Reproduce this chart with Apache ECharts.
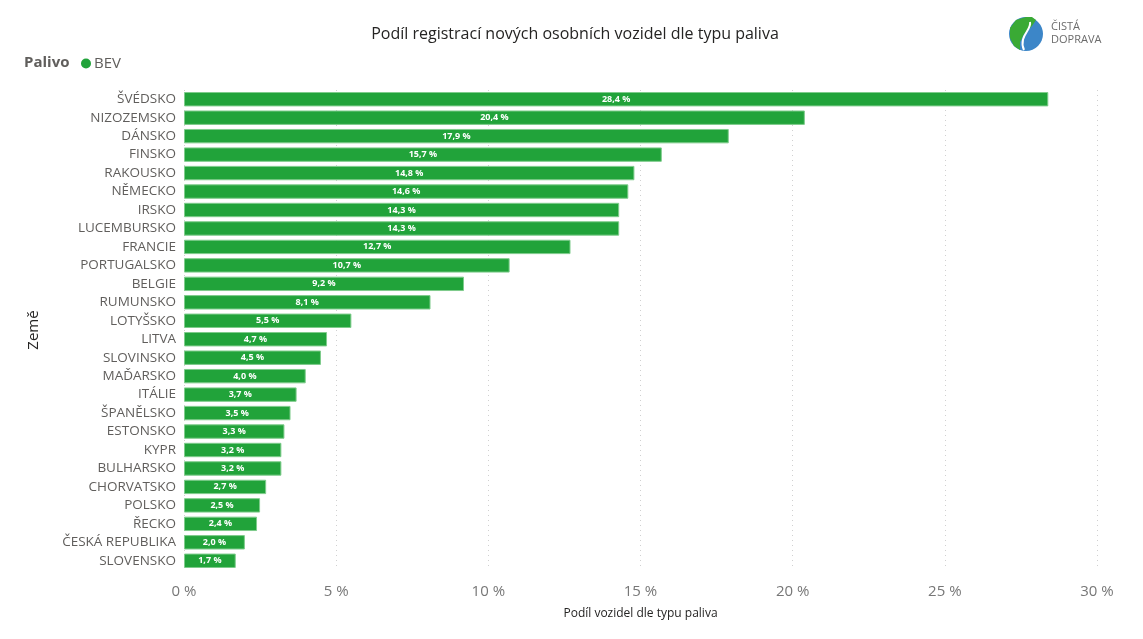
<!DOCTYPE html>
<html><head><meta charset="utf-8">
<script src="https://cdn.jsdelivr.net/npm/echarts@6/dist/echarts.min.js"></script>
<style>html,body{margin:0;padding:0;background:#fff}#c{width:1143px;height:639px}</style>
</head><body><div id="c"></div>
<script>
const categories = ["ŠVÉDSKO","NIZOZEMSKO","DÁNSKO","FINSKO","RAKOUSKO","NĚMECKO","IRSKO","LUCEMBURSKO","FRANCIE","PORTUGALSKO","BELGIE","RUMUNSKO","LOTYŠSKO","LITVA","SLOVINSKO","MAĎARSKO","ITÁLIE","ŠPANĚLSKO","ESTONSKO","KYPR","BULHARSKO","CHORVATSKO","POLSKO","ŘECKO","ČESKÁ REPUBLIKA","SLOVENSKO"];
const bevValues = [28.4,20.4,17.9,15.7,14.8,14.6,14.3,14.3,12.7,10.7,9.2,8.1,5.5,4.7,4.5,4.0,3.7,3.5,3.3,3.2,3.2,2.7,2.5,2.4,2.0,1.7];
const xTicks = [0,5,10,15,20,25,30];

const chart = echarts.init(document.getElementById('c'));
const fmt = v => v.toFixed(1).replace('.', ',') + ' %';
chart.setOption({
  animation:false,
  textStyle:{fontFamily:'"Open Sans", "DejaVu Sans", sans-serif'},
  title:{text:'Podíl registrací nových osobních vozidel dle typu paliva',left:570,top:21,textAlign:'center',
    textStyle:{fontSize:16,fontWeight:'normal',color:'#252423',fontFamily:'"Open Sans", sans-serif'}},
  legend:{left:76,top:51,icon:'circle',itemWidth:10,itemHeight:10,itemGap:4,data:['BEV'],
    itemStyle:{borderWidth:0,color:'#21A33A'},
    textStyle:{fontSize:15,color:'#605E5C',padding:[0,0,0,-2]}},
  graphic:[
    {type:'text',x:24,y:63,style:{text:'Palivo',fontSize:15,fontWeight:'bold',fill:'#605E5C',textVerticalAlign:'middle',fontFamily:'"Open Sans", sans-serif'}},
    {type:'circle',shape:{cx:1026,cy:34,r:17},style:{fill:'#3C86C8'}},
    {type:'polygon',shape:{points:[[1026,17],[1016,20],[1010,28],[1010,38],[1014,46],[1020,50],[1020,42],[1024,34],[1032,26],[1036,20],[1032,17]]},style:{fill:'#3AAA35'}},
    {type:'bezierCurve',shape:{x1:1030,y1:22,cpx1:1032,cpy1:30,cpx2:1018,cpy2:36,x2:1024,y2:50},style:{fill:'none',stroke:'#ffffff',lineWidth:2}},
    {type:'text',x:1051,y:20,style:{text:'ČISTÁ\nDOPRAVA',fontSize:11,lineHeight:13,fill:'#6b6b6b',fontFamily:'"Open Sans", sans-serif'}}
  ],
  grid:{left:184,right:46,top:90,bottom:69,containLabel:false},
  xAxis:{type:'value',min:0,max:30,interval:5,
    name:'Podíl vozidel dle typu paliva',nameLocation:'middle',nameGap:38,
    nameTextStyle:{fontSize:12,color:'#252423'},
    axisLine:{show:false},axisTick:{show:false},
    axisLabel:{formatter:v=> xTicks.includes(v) ? v+' %' : '',fontSize:15,color:'#777777',margin:14},
    splitLine:{show:true,lineStyle:{type:[1,4],color:'#d0d0d0',width:1}}},
  yAxis:{type:'category',data:categories,inverse:true,
    name:'Země',nameLocation:'middle',nameGap:143,nameRotate:90,
    nameTextStyle:{fontSize:15,color:'#252423'},
    axisLine:{show:false},axisTick:{show:false},
    axisLabel:{fontSize:13.5,color:'#605E5C',margin:8}},
  series:[{name:'BEV',type:'bar',data:bevValues,barCategoryGap:'22%',
    itemStyle:{color:'#21A33A',borderColor:'#7FCC8C',borderWidth:1},
    label:{show:true,position:'inside',formatter:p=>fmt(p.value),color:'#ffffff',fontSize:9,fontWeight:'bold'}}]
});
</script></body></html>
